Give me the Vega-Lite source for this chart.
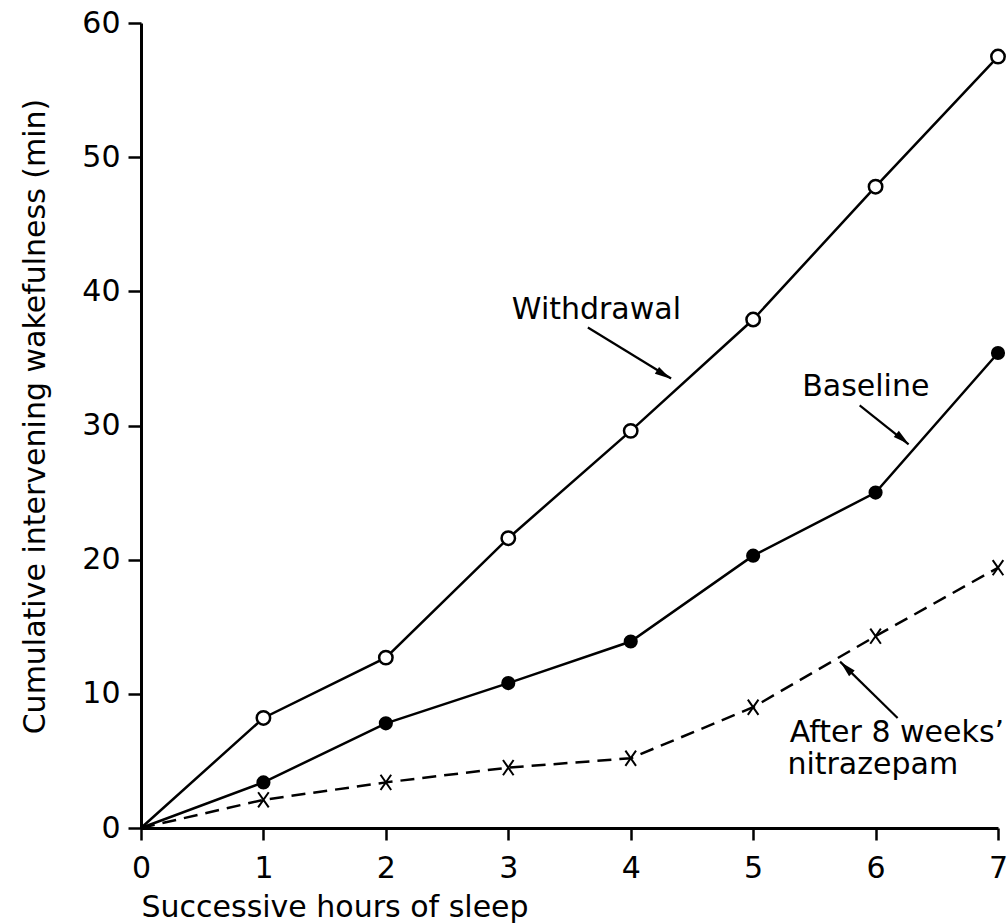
{
  "$schema": "https://vega.github.io/schema/vega-lite/v6.json",
  "width": 857,
  "height": 805,
  "autosize": {"type": "none"},
  "padding": {"left": 141, "top": 23, "right": 10, "bottom": 96},
  "background": "white",
  "config": {"view": {"stroke": null}, "font": "DejaVu Sans", "axis": {"grid": false}},
  "datasets": {
    "series": [
      {"hour": 0, "minutes": 0, "series": "Withdrawal"},
      {"hour": 1, "minutes": 8.2, "series": "Withdrawal"},
      {"hour": 2, "minutes": 12.7, "series": "Withdrawal"},
      {"hour": 3, "minutes": 21.6, "series": "Withdrawal"},
      {"hour": 4, "minutes": 29.6, "series": "Withdrawal"},
      {"hour": 5, "minutes": 37.9, "series": "Withdrawal"},
      {"hour": 6, "minutes": 47.8, "series": "Withdrawal"},
      {"hour": 7, "minutes": 57.5, "series": "Withdrawal"},
      {"hour": 0, "minutes": 0, "series": "Baseline"},
      {"hour": 1, "minutes": 3.4, "series": "Baseline"},
      {"hour": 2, "minutes": 7.8, "series": "Baseline"},
      {"hour": 3, "minutes": 10.8, "series": "Baseline"},
      {"hour": 4, "minutes": 13.9, "series": "Baseline"},
      {"hour": 5, "minutes": 20.3, "series": "Baseline"},
      {"hour": 6, "minutes": 25.0, "series": "Baseline"},
      {"hour": 7, "minutes": 35.4, "series": "Baseline"},
      {"hour": 0, "minutes": 0, "series": "Nitrazepam"},
      {"hour": 1, "minutes": 2.1, "series": "Nitrazepam"},
      {"hour": 2, "minutes": 3.4, "series": "Nitrazepam"},
      {"hour": 3, "minutes": 4.5, "series": "Nitrazepam"},
      {"hour": 4, "minutes": 5.2, "series": "Nitrazepam"},
      {"hour": 5, "minutes": 9.0, "series": "Nitrazepam"},
      {"hour": 6, "minutes": 14.3, "series": "Nitrazepam"},
      {"hour": 7, "minutes": 19.4, "series": "Nitrazepam"}
    ],
    "arrows": [
      {"series": "Withdrawal", "hour": 3.65, "minutes": 37.3, "hour2": 4.33, "minutes2": 33.5, "hx": 4.27, "hy": 33.8},
      {"series": "Baseline", "hour": 5.87, "minutes": 31.5, "hour2": 6.27, "minutes2": 28.6, "hx": 6.22, "hy": 29.0},
      {"series": "Nitrazepam", "hour": 6.18, "minutes": 8.2, "hour2": 5.71, "minutes2": 12.4, "hx": 5.76, "hy": 11.95}
    ],
    "labels": [
      {"text": "Withdrawal", "hour": 3.72, "minutes": 38.6, "pos": "center"},
      {"text": "Baseline", "hour": 5.92, "minutes": 32.9, "pos": "center"},
      {"text": "After 8 weeks’", "hour": 5.30, "minutes": 7.08, "pos": "left"},
      {"text": "nitrazepam", "hour": 5.28, "minutes": 4.69, "pos": "left"}
    ]
  },
  "encoding": {
    "x": {
      "field": "hour", "type": "quantitative",
      "scale": {"domain": [0, 7], "nice": false, "zero": true},
      "axis": {
        "values": [0, 1, 2, 3, 4, 5, 6, 7], "format": "d",
        "labelFont": "DejaVu Sans", "labelFontSize": 30, "labelColor": "black",
        "labelPadding": 13, "labelFlush": false, "labelOverlap": false,
        "tickColor": "black", "tickWidth": 2.5, "tickSize": 12,
        "domainColor": "black", "domainWidth": 3,
        "title": "Successive hours of sleep",
        "titleFont": "DejaVu Sans", "titleFontSize": 30, "titleFontWeight": "normal", "titleColor": "black",
        "titleAnchor": "start", "titleAlign": "left", "titleBaseline": "alphabetic",
        "titleX": 0, "titleY": 88
      }
    },
    "y": {
      "field": "minutes", "type": "quantitative",
      "scale": {"domain": [0, 60], "nice": false, "zero": true},
      "axis": {
        "values": [0, 10, 20, 30, 40, 50, 60], "format": "d",
        "labelFont": "DejaVu Sans", "labelFontSize": 30, "labelColor": "black",
        "labelPadding": 8, "labelFlush": false, "labelOverlap": false,
        "tickColor": "black", "tickWidth": 2.5, "tickSize": 13,
        "domainColor": "black", "domainWidth": 3,
        "title": "Cumulative intervening wakefulness (min)",
        "titleFont": "DejaVu Sans", "titleFontSize": 30, "titleFontWeight": "normal", "titleColor": "black",
        "titleAngle": 270, "titleAlign": "center", "titleBaseline": "alphabetic",
        "titleX": -97, "titleY": 393
      }
    }
  },
  "layer": [
    {
      "data": {"name": "series"},
      "transform": [{"filter": "datum.series !== 'Nitrazepam'"}],
      "mark": {"type": "line", "color": "black", "strokeWidth": 2.5},
      "encoding": {"detail": {"field": "series"}}
    },
    {
      "data": {"name": "series"},
      "transform": [{"filter": "datum.series === 'Nitrazepam'"}],
      "mark": {"type": "line", "color": "black", "strokeWidth": 2.5, "strokeDash": [14, 8]},
      "encoding": {}
    },
    {
      "data": {"name": "series"},
      "transform": [{"filter": "datum.series === 'Withdrawal' && datum.hour > 0"}],
      "mark": {"type": "point", "shape": "circle", "filled": true, "fill": "white", "stroke": "black", "strokeWidth": 2.5, "size": 180, "opacity": 1}
    },
    {
      "data": {"name": "series"},
      "transform": [{"filter": "datum.series === 'Baseline' && datum.hour > 0"}],
      "mark": {"type": "point", "shape": "circle", "filled": true, "color": "black", "size": 200, "opacity": 1}
    },
    {
      "data": {"name": "series"},
      "transform": [{"filter": "datum.series === 'Nitrazepam' && datum.hour > 0"}],
      "mark": {"type": "point", "shape": "M-0.7,-1L0.7,1M0.7,-1L-0.7,1", "filled": false, "stroke": "black", "strokeWidth": 2, "size": 230, "opacity": 1}
    },
    {
      "data": {"name": "arrows"},
      "mark": {"type": "rule", "color": "black", "strokeWidth": 2.2},
      "encoding": {
        "x2": {"field": "hour2"},
        "y2": {"field": "minutes2"}
      }
    },
    {
      "data": {"name": "arrows"},
      "transform": [{"filter": "datum.series === 'Withdrawal'"}],
      "mark": {"type": "point", "shape": "M0,-1L0.5,1L-0.5,1Z", "filled": true, "color": "black", "size": 256, "opacity": 1, "angle": 121.6},
      "encoding": {
        "x": {"field": "hx", "type": "quantitative"},
        "y": {"field": "hy", "type": "quantitative"}
      }
    },
    {
      "data": {"name": "arrows"},
      "transform": [{"filter": "datum.series === 'Baseline'"}],
      "mark": {"type": "point", "shape": "M0,-1L0.5,1L-0.5,1Z", "filled": true, "color": "black", "size": 256, "opacity": 1, "angle": 129.1},
      "encoding": {
        "x": {"field": "hx", "type": "quantitative"},
        "y": {"field": "hy", "type": "quantitative"}
      }
    },
    {
      "data": {"name": "arrows"},
      "transform": [{"filter": "datum.series === 'Nitrazepam'"}],
      "mark": {"type": "point", "shape": "M0,-1L0.5,1L-0.5,1Z", "filled": true, "color": "black", "size": 256, "opacity": 1, "angle": 314.5},
      "encoding": {
        "x": {"field": "hx", "type": "quantitative"},
        "y": {"field": "hy", "type": "quantitative"}
      }
    },
    {
      "data": {"name": "labels"},
      "transform": [{"filter": "datum.pos === 'center'"}],
      "mark": {"type": "text", "font": "DejaVu Sans", "fontSize": 30, "color": "black", "align": "center", "baseline": "middle"},
      "encoding": {"text": {"field": "text"}}
    },
    {
      "data": {"name": "labels"},
      "transform": [{"filter": "datum.pos === 'left'"}],
      "mark": {"type": "text", "font": "DejaVu Sans", "fontSize": 30, "color": "black", "align": "left", "baseline": "middle"},
      "encoding": {"text": {"field": "text"}}
    }
  ]
}
